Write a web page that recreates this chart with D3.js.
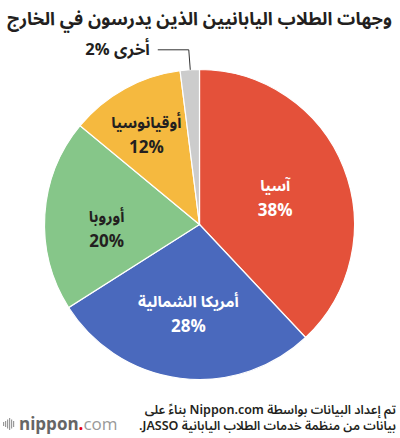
<!DOCTYPE html>
<html><head><meta charset="utf-8">
<script src="https://cdn.jsdelivr.net/npm/d3@7"></script>
<style>
body{margin:0;background:#fff;}
svg{display:block;font-family:"Noto Sans Arabic","Noto Sans",sans-serif;}
</style></head>
<body><svg id="c" width="400" height="438"></svg>
<script>
const regions = ["آسيا","أمريكا الشمالية","أوروبا","أوقيانوسيا","أخرى"];
const shares = [38,28,20,12,2];
const colors = ["#e4513a","#4a69bd","#86c689","#f5b93f","#cccccc"];
const labelColors = ["#ffffff","#ffffff","#231f20","#231f20","#231f20"];
const title = "وجهات الطلاب اليابانيين الذين يدرسون في الخارج";
const source = ["تم إعداد البيانات بواسطة Nippon.com بناءً على","بيانات من منظمة خدمات الطلاب اليابانية JASSO."];

const svg = d3.select("#c");
const cx = 199.5, cy = 224.5, R = 155;
const data = regions.map((r,i)=>({name:r,value:shares[i],color:colors[i],lc:labelColors[i]}));
const pie = d3.pie().value(d=>d.value).sort(null);
const arcs = pie(data);
const arc = d3.arc().innerRadius(0).outerRadius(R);
const g = svg.append("g").attr("transform",`translate(${cx},${cy})`);
g.selectAll("path").data(arcs).join("path")
  .attr("d",arc).attr("fill",d=>d.data.color)
  .attr("stroke","#fff").attr("stroke-width",1.2);

// label placement: radius fraction and angular shift (degrees)
const lr = [0.52,0.575,0.6,0.68];
const shift = [1.6,0,-5.6,-1.5];
arcs.slice(0,4).forEach((a,i)=>{
  const m = (a.startAngle+a.endAngle)/2 + shift[i]*Math.PI/180;
  const c = [R*lr[i]*Math.sin(m), -R*lr[i]*Math.cos(m)];
  g.append("text").attr("text-anchor","middle").attr("direction","rtl")
    .attr("fill",a.data.lc).attr("font-weight","bold").attr("font-size",15.5)
    .attr("x",c[0]).attr("y",c[1]-6).text(a.data.name);
  g.append("text").attr("text-anchor","middle")
    .attr("fill",a.data.lc).attr("font-weight","bold").attr("font-size",17)
    .attr("x",c[0]).attr("y",c[1]+19).text(a.data.value+"%");
});
// Other label with leader
const o = arcs[4];
const mid = (o.startAngle+o.endAngle)/2;
const px = R*Math.sin(mid), py = -R*Math.cos(mid);
g.append("path").attr("d",`M${px+0.5},${py} L${px-1},${py-20} L${px-32},${py-20}`)
  .attr("fill","none").attr("stroke","#333").attr("stroke-width",1);
g.append("text").attr("x",px-40).attr("y",py-15).attr("direction","rtl")
  .attr("text-anchor","start").attr("font-weight","bold").attr("font-size",16.5)
  .attr("fill","#231f20").text(o.data.name+" \u200E"+o.data.value+"%");

const tt = svg.append("text").attr("x",392).attr("y",25).attr("direction","rtl")
  .attr("text-anchor","start").attr("font-weight","bold").attr("font-size",20)
  .attr("fill","#231f20").text(title);
const w = tt.node().getComputedTextLength();
if (w > 385) tt.attr("font-size", 20*385/w);

source.forEach((s,i)=>{
  svg.append("text").attr("x",396).attr("y",414+i*16).attr("direction","rtl")
    .attr("text-anchor","start").attr("font-size",12.5).attr("font-weight",600)
    .attr("fill","#231f20").text(s);
});

// logo
const lg = svg.append("g").attr("transform","translate(3,424)");
[[0,4],[2,6],[4,9],[6,12],[8,9],[10,6]].forEach(([x,h])=>{
  lg.append("rect").attr("x",x).attr("y",-h/2).attr("width",1.2).attr("height",h).attr("fill","#999");
});
const lt = lg.append("text").attr("x",16).attr("y",6).attr("font-family","Open Sans, sans-serif").attr("font-size",17);
lt.append("tspan").attr("font-weight","bold").attr("fill","#666").text("nippon");
lt.append("tspan").attr("fill","#e60012").attr("font-weight","bold").text(".");
lt.append("tspan").attr("fill","#999").text("com");
</script></body></html>
